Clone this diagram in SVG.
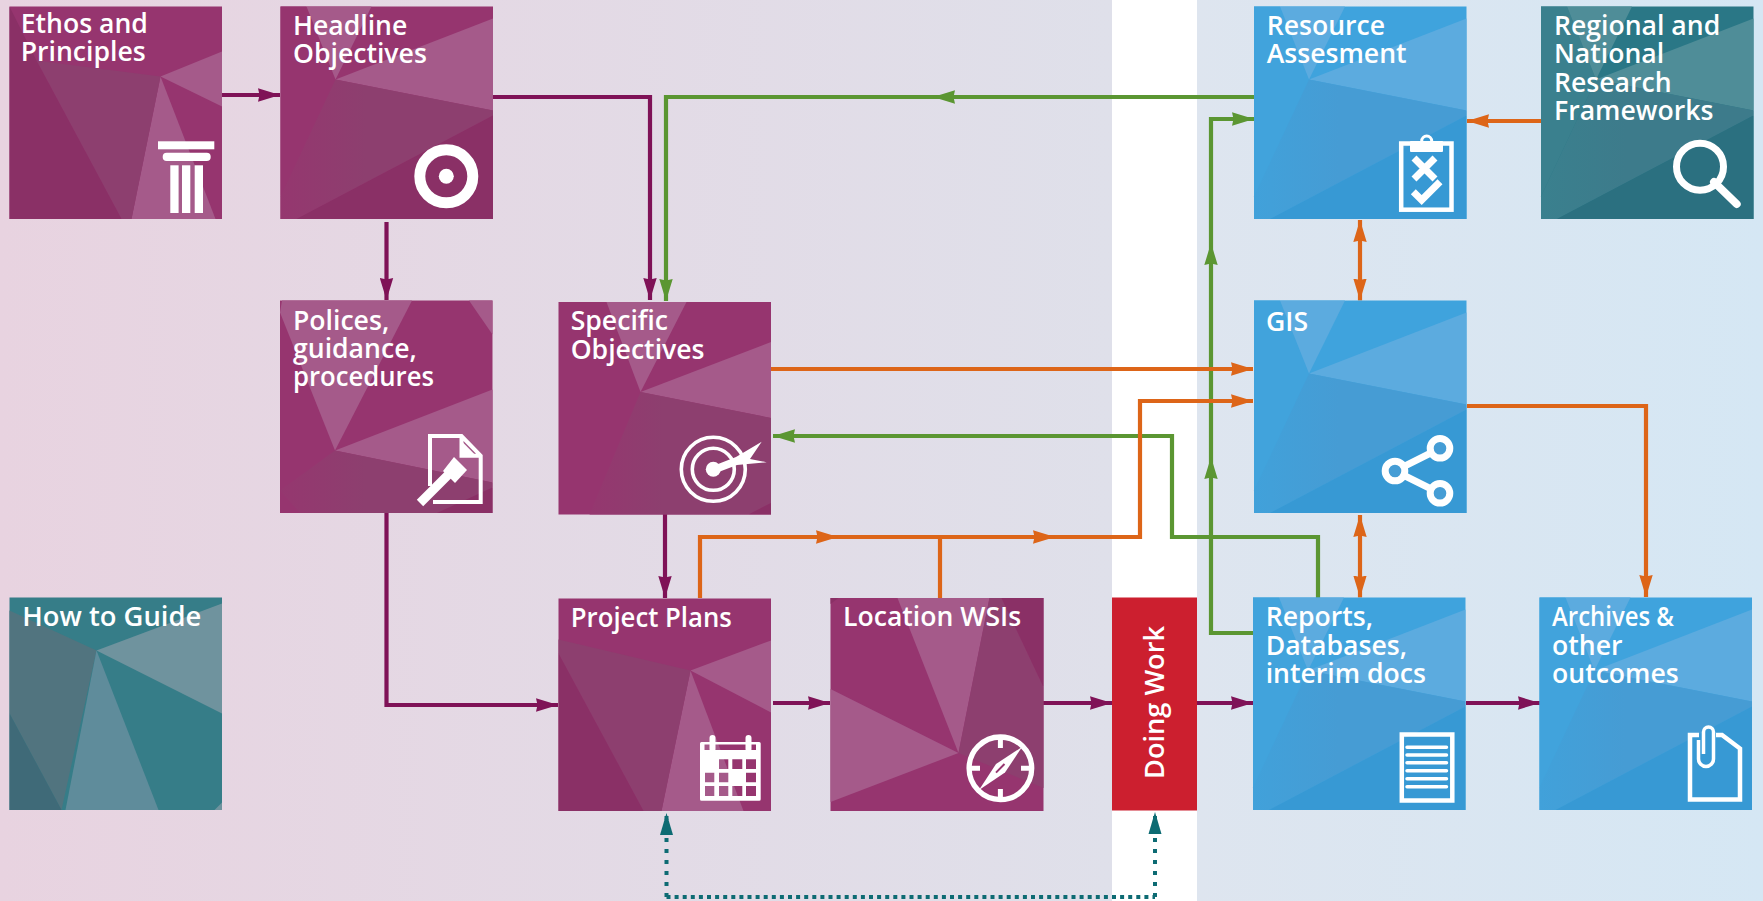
<svg xmlns="http://www.w3.org/2000/svg" width="1763" height="901" viewBox="0 0 1763 901">
<style>
text{font-family:"Open Sans","Noto Sans","Liberation Sans",sans-serif;font-weight:600;font-size:26.600px;fill:#fff}
.pur{--b:#96356f;--e:#96356f;--l:#a55a8a;--m:url(#mp);--d:#8a3066}
.blu{--b:#3fa3dd;--e:#41a3dc;--l:#5cabdf;--m:url(#mb);--d:#3799d4}
.tea{--b:#2a7786;--e:#3a808e;--l:#4f8d98;--m:url(#mt);--d:#2b7080}
.htg{--b:#367d88;--l:#6f939e;--m:#51747f;--d:#3f6a78}
.b{fill:var(--b)}.e{fill:var(--e)}.l{fill:var(--l)}.m{fill:var(--m)}.d{fill:var(--d)}
.c{fill:none;stroke-width:4.200}
.pc{stroke:#7f1257}.gc{stroke:#5b9632}.oc{stroke:#dd6518}
.tc{stroke:#0d6b73;stroke-width:4;stroke-dasharray:4 7}
.th{stroke-dasharray:4 4.100}
.i{fill:none;stroke:#fff}
.w{fill:#fff}
</style>
<defs>
<linearGradient id="bgl" x1="0" x2="1" y1="0" y2="0"><stop offset="0" stop-color="#e8d3e0"/><stop offset="1" stop-color="#dfe0ea"/></linearGradient>
<linearGradient id="bgr" x1="0" x2="1" y1="0" y2="0"><stop offset="0" stop-color="#dee5ef"/><stop offset="1" stop-color="#d5e7f4"/></linearGradient>
<linearGradient id="mp" x1="0" x2="1" y1="0" y2="0"><stop offset="0" stop-color="#95376f"/><stop offset=".4" stop-color="#8d3f6f"/></linearGradient>
<linearGradient id="mb" x1="0" x2="1" y1="0" y2="0"><stop offset="0" stop-color="#41a1da"/><stop offset=".4" stop-color="#469cd4"/></linearGradient>
<linearGradient id="mt" x1="0" x2="1" y1="0" y2="0"><stop offset="0" stop-color="#3a808e"/><stop offset=".4" stop-color="#3d7b8b"/></linearGradient>
<marker id="ap" markerUnits="userSpaceOnUse" markerWidth="24" markerHeight="14" refX="22" refY="7" orient="auto-start-reverse"><path d="M0 0.300L22 7L0 13.700L1.500 7z" fill="#7f1257"/></marker>
<marker id="ag" markerUnits="userSpaceOnUse" markerWidth="24" markerHeight="14" refX="22" refY="7" orient="auto-start-reverse"><path d="M0 0.300L22 7L0 13.700L1.500 7z" fill="#5b9632"/></marker>
<marker id="ao" markerUnits="userSpaceOnUse" markerWidth="24" markerHeight="14" refX="22" refY="7" orient="auto-start-reverse"><path d="M0 0.300L22 7L0 13.700L1.500 7z" fill="#dd6518"/></marker>
<marker id="at" markerUnits="userSpaceOnUse" markerWidth="24" markerHeight="14" refX="22" refY="7" orient="auto-start-reverse"><path d="M0 0.500L22 7L0 13.500z" fill="#0d6b73"/></marker>
<g id="fA"><rect class="b" width="212.500" height="212.500"/><path class="e" d="M0 0H26L55 73L0 190z"/><path class="l" d="M26 0H91L55 73z"/><path class="l" d="M55 73L212.500 12V104z"/><path class="m" d="M55 73L212.500 104V109L16 212.500H0V190z"/><path class="d" d="M212.500 109V212.500H16z"/></g>
<g id="fE"><rect class="b" width="212.500" height="212.500"/><path class="l" d="M151 70L212.500 45V100z"/><path class="l" d="M151 70L122 212.500H206z"/><path fill="#8d3f6f" d="M27 54L151 70L122 212.500H112z"/><path class="d" d="M0 0L27 54L112 212.500H0z"/></g>
<g id="fP"><rect class="b" width="212.500" height="212.500"/><path class="l" d="M0 12L2 0H132L55 150z"/><path class="l" d="M189 0H212.500V34z"/><path class="l" d="M55 150L212.500 89V182z"/><path class="m" d="M55 150L212.500 182V187L157 212.500H20L0 190z"/><path class="d" d="M212.500 187V212.500H157z"/></g>
<g id="fS"><rect class="b" width="212.500" height="212.500"/><path class="l" d="M48 0H128L82 90z"/><path class="l" d="M82 90L212.500 40V116z"/><path class="m" d="M82 90L212.500 116V201L190 212.500H31z"/><path class="d" d="M212.500 201V212.500H190z"/></g>
<g id="fJ"><rect class="b" width="212.500" height="212.500"/><path class="l" d="M132 72L212.500 42V114z"/><path class="l" d="M132 72L103 212.500H185z"/><path fill="#8d3f6f" d="M0 41L132 72L103 212.500H85L0 55z"/><path class="d" d="M0 55L85 212.500H0z"/></g>
<g id="fL"><rect class="b" width="213" height="213"/><path class="l" d="M128 155L0 91V204z"/><path class="l" d="M128 155L67 0H159z"/><path fill="#8d3f6f" d="M128 155L159 0H171L213 89V190z"/><path class="d" d="M171 0H213V89z"/><path class="d" d="M0 0H8L0 6z"/></g>
<g id="fH"><rect class="b" width="212.500" height="212.500"/><path class="m" d="M0 13L87 53L52 212.500L0 116z"/><path class="d" d="M0 116L52 212.500H0z"/><path class="l" d="M87 53L212.500 6V116z"/><path fill="#5f8c9b" d="M87 53L56 212.500H149z"/><path class="l" d="M212.500 205V212.500H205z"/></g>
</defs>
<rect width="1112" height="901" fill="url(#bgl)"/>
<rect x="1112" width="85" height="901" fill="#fff"/>
<rect x="1197" width="566" height="901" fill="url(#bgr)"/>

<g id="connectors">
<path class="c pc" d="M222 95H280" marker-end="url(#ap)"/>
<path class="c pc" d="M493 97H650V300" marker-end="url(#ap)"/>
<path class="c pc" d="M386.500 222V300" marker-end="url(#ap)"/>
<path class="c pc" d="M386.500 513V705H558" marker-end="url(#ap)"/>
<path class="c pc" d="M665 514V598" marker-end="url(#ap)"/>
<path class="c pc" d="M773 703H830" marker-end="url(#ap)"/>
<path class="c pc" d="M1043 703H1112" marker-end="url(#ap)"/>
<path class="c pc" d="M1197 703H1253" marker-end="url(#ap)"/>
<path class="c pc" d="M1466 703H1540" marker-end="url(#ap)"/>
<path class="c gc" d="M1254 97H933" marker-end="url(#ag)"/>
<path class="c gc" d="M933 97H666V301" marker-end="url(#ag)"/>
<path class="c gc" d="M1253 633H1211V457" marker-end="url(#ag)"/>
<path class="c gc" d="M1211 457V243" marker-end="url(#ag)"/>
<path class="c gc" d="M1211 243V119H1254" marker-end="url(#ag)"/>
<path class="c gc" d="M1318 598V537H1172V436H773" marker-end="url(#ag)"/>
<path class="c oc" d="M771 369H1253" marker-end="url(#ao)"/>
<path class="c oc" d="M700 598V537H838" marker-end="url(#ao)"/>
<path class="c oc" d="M838 537H1055" marker-end="url(#ao)"/>
<path class="c oc" d="M1055 537H1140V401H1253" marker-end="url(#ao)"/>
<path class="c oc" d="M940 598V537"/>
<path class="c oc" d="M1541 121H1467" marker-end="url(#ao)"/>
<path class="c oc" d="M1360 220V300.500" marker-start="url(#ao)" marker-end="url(#ao)"/>
<path class="c oc" d="M1360 515V597.500" marker-start="url(#ao)" marker-end="url(#ao)"/>
<path class="c oc" d="M1467 406H1646V597" marker-end="url(#ao)"/>
<path class="c tc" d="M666.500 897V813" marker-end="url(#at)"/>
<path class="c tc" d="M1155 897V812" marker-end="url(#at)"/>
<path class="c tc th" d="M666.500 897H1155"/>
</g>

<g id="ethos" class="pur"><use href="#fE" x="9.500" y="6.500"/>
<text><tspan x="20.700" y="33.300">Ethos and</tspan><tspan x="20.700" y="61">Principles</tspan></text>
<g class="w"><rect x="158" y="141.300" width="56.300" height="8"/><rect x="162.700" y="152.700" width="48" height="8.300" rx="4"/><rect x="170.300" y="165.300" width="8.300" height="47.700"/><rect x="182" y="165.300" width="8.300" height="47.700"/><rect x="194.700" y="165.300" width="8.300" height="47.700"/></g></g>

<g id="headline" class="pur"><use href="#fA" x="280.500" y="6.500"/>
<text><tspan x="293" y="35">Headline</tspan><tspan x="293" y="63.300">Objectives</tspan></text>
<circle class="i" cx="446.300" cy="176.300" r="26.500" stroke-width="11"/><circle class="w" cx="446.300" cy="176.300" r="7.500"/></g>

<g id="polices" class="pur"><use href="#fP" x="280" y="300.500"/>
<text><tspan x="293" y="329.500">Polices,</tspan><tspan x="293" y="357.500">guidance,</tspan></text><text x="293" y="385.700" textLength="141" lengthAdjust="spacingAndGlyphs">procedures</text>
<path class="i" stroke-width="4" d="M430 486V436H461.500L480.700 455.700V502H433M461.500 436V455.700H480.700"/><path class="w" d="M461.500 441V455.700H476z"/>
<path class="i" stroke-width="9" d="M420 503L452 471"/><path class="w" d="M443 471L454 457L467 470L455 483z"/></g>

<g id="specific" class="pur"><use href="#fS" x="558.500" y="302"/>
<text><tspan x="570.700" y="330">Specific</tspan><tspan x="570.700" y="358.500">Objectives</tspan></text>
<circle class="i" cx="713.300" cy="469.300" r="32" stroke-width="3.600"/><circle class="i" cx="713.300" cy="469.300" r="21" stroke-width="3.600"/><circle class="w" cx="713.300" cy="469.300" r="7.500"/>
<path class="w" d="M713 466L736 457L761.700 441.700L750 459L766.700 462.300L737 465L716 473z"/></g>

<g id="project-plans" class="pur"><use href="#fJ" x="558.500" y="598.500"/>
<text x="570.800" y="626.800" textLength="161" lengthAdjust="spacingAndGlyphs">Project Plans</text>
<path class="w" fill-rule="evenodd" d="M701.500 742H759.200Q760.700 742 760.700 743.500V799.200Q760.700 800.700 759.200 800.700H701.500Q700 800.700 700 799.200V743.500Q700 742 701.500 742ZM704.500 744.500V750H756V744.500ZM719 759.300V769H728.300V759.300ZM732.300 759.300V769H742.300V759.300ZM746 759.300V769H756V759.300ZM705 772.700V782.300H714.300V772.700ZM719 772.700V782.300H728.300V772.700ZM746 772.700V782.300H756V772.700ZM705 786V796H714.300V786ZM719 786V796H728.300V786ZM732.300 786V796H742.300V786ZM746 786V796H756V786Z"/>
<g fill="#fff"><rect x="709.500" y="735" width="6" height="17" rx="3"/><rect x="745.500" y="735" width="6" height="17" rx="3"/></g></g>

<g id="location-wsis" class="pur"><use href="#fL" x="830.500" y="598"/>
<text x="843" y="626">Location WSIs</text>
<circle class="i" cx="1000.400" cy="768.300" r="31.300" stroke-width="5.300"/>
<path class="i" stroke-width="5" d="M1000.400 737V748M1000.400 789V800M969 768.300H980M1021 768.300H1032"/>
<path class="w" d="M1022 747L1005 772.600L979 790L996 764z"/><path d="M1004.500 764L996 772.600" stroke="#96356f" stroke-width="2" fill="none"/></g>

<g id="how-to-guide" class="htg"><use href="#fH" x="9.500" y="597.500"/>
<text x="22.300" y="626" textLength="179" lengthAdjust="spacingAndGlyphs">How to Guide</text></g>

<g id="doing-work"><rect x="1112" y="597.500" width="85" height="213" fill="#cc1f2f"/>
<text transform="translate(1163.700 779) rotate(-90)" textLength="153" lengthAdjust="spacingAndGlyphs">Doing Work</text></g>

<g id="resource" class="blu"><use href="#fA" x="1254" y="6.500"/>
<text><tspan x="1266.700" y="35">Resource</tspan><tspan x="1266.700" y="63.300">Assesment</tspan></text>
<rect class="i" x="1401.200" y="143.500" width="50.300" height="66.200" stroke-width="4.500"/><rect class="w" x="1410" y="141" width="33" height="11" rx="1"/><circle class="i" cx="1426.700" cy="141" r="5" stroke-width="3"/>
<path class="i" stroke-width="7" d="M1414 158L1435 179M1435 158L1414 179M1413.300 191.700L1421.700 200L1440 181.700"/></g>

<g id="regional" class="tea"><use href="#fA" x="1541" y="6.500"/>
<text><tspan x="1554" y="35">Regional and</tspan><tspan x="1554" y="63.300">National</tspan><tspan x="1554" y="91.700">Research</tspan><tspan x="1554" y="120">Frameworks</tspan></text>
<circle class="i" cx="1700" cy="166.700" r="23.500" stroke-width="7"/><path class="i" stroke-width="8" stroke-linecap="round" d="M1714 182L1736.700 204"/></g>

<g id="gis" class="blu"><use href="#fA" x="1254" y="300.500"/>
<text x="1266" y="330.500">GIS</text>
<path class="i" stroke-width="7" d="M1440 448.300L1395 471L1440 493.300"/><g fill="#459dd5" stroke="#fff" stroke-width="7"><circle cx="1440" cy="448.300" r="9.800"/><circle cx="1395" cy="471" r="9.800"/><circle cx="1440" cy="493.300" r="9.800"/></g></g>

<g id="reports" class="blu"><use href="#fA" x="1253" y="597.500"/>
<text><tspan x="1265.700" y="626">Reports,</tspan><tspan x="1265.700" y="654.500">Databases,</tspan><tspan x="1265.700" y="682.500">interim docs</tspan></text>
<rect class="i" x="1401.800" y="734.500" width="50.500" height="66" stroke-width="4.500"/>
<path class="i" stroke-width="3.500" stroke-linecap="round" d="M1407 747.300H1446.500M1407 755H1446.500M1407 762.700H1446.500M1407 770.700H1446.500M1407 778.700H1446.500M1407 786.700H1446.500"/></g>

<g id="archives" class="blu"><use href="#fA" x="1539.500" y="597.500"/>
<text x="1552" y="626" textLength="122" lengthAdjust="spacingAndGlyphs">Archives &amp;</text><text><tspan x="1552" y="654.500">other</tspan><tspan x="1552" y="682.500">outcomes</tspan></text>
<path class="i" stroke-width="4.500" d="M1699 735H1690V799.500H1740V748.500L1722 735H1716"/>
<path class="i" stroke-width="3.500" d="M1698.500 740V759A7.500 7.500 0 0 0 1713.500 759V732A5 5 0 0 0 1703.500 732V754"/></g>
</svg>
